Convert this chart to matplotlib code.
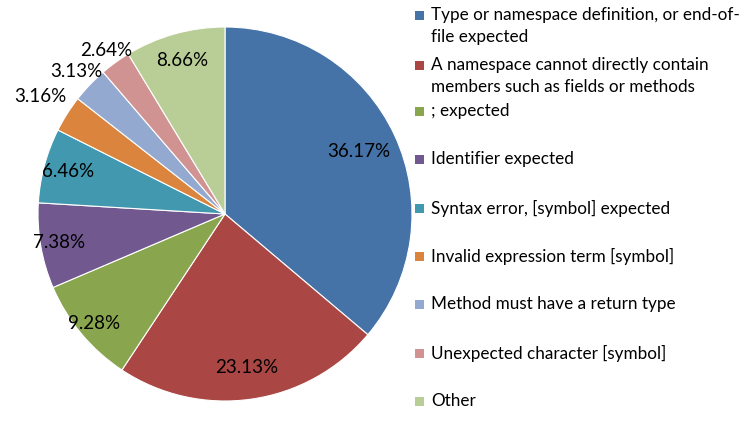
import matplotlib.pyplot as plt
import numpy as np
from matplotlib.patches import Rectangle

plt.rcParams['font.family'] = ['Lato', 'DejaVu Sans']

# Datos del gráfico
etiquetas = [
    "Type or namespace definition, or end-of-\nfile expected",
    "A namespace cannot directly contain\nmembers such as fields or methods",
    "; expected",
    "Identifier expected",
    "Syntax error, [symbol] expected",
    "Invalid expression term [symbol]",
    "Method must have a return type",
    "Unexpected character [symbol]",
    "Other",
]
porcentajes = [36.17, 23.13, 9.28, 7.38, 6.46, 3.16, 3.13, 2.64, 8.66]
colores = ["#4572A7", "#AA4643", "#89A54E", "#71588F", "#4198AF",
           "#DB843D", "#93A9CF", "#D19392", "#B9CD96"]

W, H = 749, 425
fig = plt.figure(figsize=(W / 100, H / 100), dpi=100)

# Pie en pixeles: centro (225, 214), radio 187
cx, cy, r = 225, 214, 187
ax = fig.add_axes([(cx - r) / W, (H - cy - r) / H, 2 * r / W, 2 * r / H])
wedges, _ = ax.pie(porcentajes, colors=colores, startangle=90, counterclock=False,
                   wedgeprops=dict(edgecolor='white', linewidth=0.8))
ax.set_xlim(-1, 1)
ax.set_ylim(-1, 1)
ax.set_aspect('auto')

# Distancia radial de cada etiqueta (las pequeñas van fuera)
dist_etiqueta = [0.79, 0.83, 0.91, 0.90, 0.87, 1.17, 1.10, 1.08, 0.85]
for w, p, d in zip(wedges, porcentajes, dist_etiqueta):
    ang = np.deg2rad((w.theta1 + w.theta2) / 2)
    ax.text(d * np.cos(ang), d * np.sin(ang), f"{p:.2f}%", ha='center', va='center',
            fontsize=13.5, color='black', clip_on=False)

# Leyenda manual
y_items = [15, 65, 111, 159, 208, 256, 304, 353, 401]
for lab, col, y in zip(etiquetas, colores, y_items):
    fig.patches.append(Rectangle(((415) / W, (H - y - 4.5) / H), 9 / W, 9 / H,
                                 transform=fig.transFigure, facecolor=col, edgecolor='none'))
    for i, linea in enumerate(lab.split("\n")):
        fig.text(431 / W, (H - y - i * 22) / H, linea, ha='left', va='center',
                 fontsize=12.3, color='black')

fig.savefig("out.png", dpi=100)
